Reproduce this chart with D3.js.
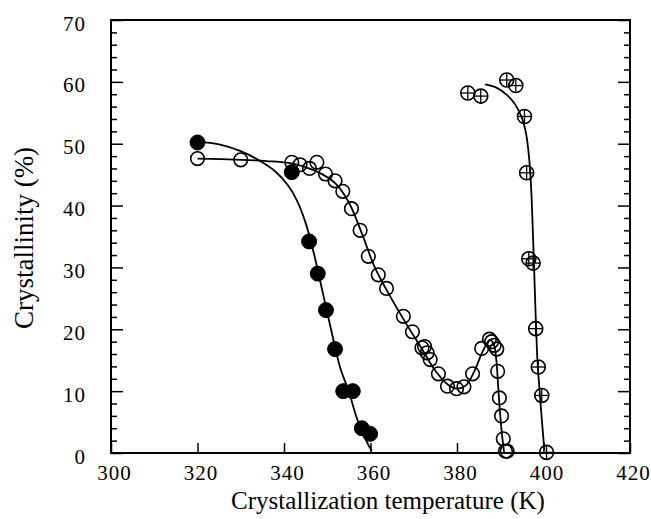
<!DOCTYPE html>
<html><head><meta charset="utf-8">
<script src="https://cdn.jsdelivr.net/npm/d3@7"></script>
<style>body{margin:0;background:#fff}</style>
</head><body><svg id="c" width="651" height="519"></svg>
<script>
// ---- data ----
const xTicks = [300, 320, 340, 360, 380, 400, 420];
const yTicks = [0, 10, 20, 30, 40, 50, 60, 70];
const yMinorTicks = [2,4,6,8,12,14,16,18,22,24,26,28,32,34,36,38,42,44,46,48,52,54,56,58,62,64,66,68];

// filled circles
const filledT = [320, 341.8, 345.8, 347.8, 349.7, 351.8, 353.7, 355.9, 358.0, 359.9];
const filledC = [50.2, 45.4, 34.2, 29.0, 23.1, 16.8, 10.0, 10.0, 4.0, 3.1];

// open circles
const openT = [320, 330, 341.8, 343.7, 345.9, 347.6, 349.6, 351.8, 353.6, 355.6, 357.6, 359.5, 361.8, 363.7, 367.6, 369.7, 371.9, 372.5, 373.1, 373.8, 375.7, 377.8, 379.9, 381.6, 383.6, 385.7, 387.5, 388.0, 388.6, 389.2, 389.4, 389.8, 390.3, 390.7, 391.2, 391.6];
const openC = [47.6, 47.4, 47.0, 46.6, 46.0, 47.0, 45.1, 44.0, 42.3, 39.5, 36.0, 31.8, 28.8, 26.6, 22.1, 19.6, 17.0, 17.2, 16.2, 15.1, 12.8, 10.8, 10.4, 10.7, 12.8, 16.9, 18.4, 18.0, 17.4, 16.8, 13.2, 8.9, 6.0, 2.3, 0.3, 0.3];

// crossed circles
const crossT = [382.5, 385.5, 391.5, 393.6, 395.6, 396.1, 396.6, 397.6, 398.2, 398.8, 399.6, 400.7];
const crossC = [58.2, 57.7, 60.3, 59.4, 54.4, 45.3, 31.4, 30.7, 20.1, 13.9, 9.3, 0.1];

// guide curves
const fitFilledT = [320, 325, 330, 334, 338, 341, 343, 345, 347, 349, 351, 353, 355, 357, 359, 360.3];
const fitFilledC = [50.3, 49.9, 48.8, 47.4, 45.5, 43.2, 40.8, 37.2, 32.0, 25.8, 19.6, 13.8, 9.9, 5.3, 2.0, 0.3];

const fitOpenT = [320, 330, 336, 341, 345, 349, 352, 355, 358, 361, 364, 368, 372, 375, 378, 380, 382, 384, 386, 387.6, 388.5, 389.1, 389.5, 389.9, 390.4, 390.9];
const fitOpenC = [47.6, 47.4, 47.2, 46.9, 46.2, 45.0, 43.5, 40.5, 35.5, 30.0, 26.0, 21.2, 16.7, 13.3, 11.0, 10.4, 10.9, 13.2, 16.5, 18.3, 17.6, 15.0, 11.0, 7.0, 3.0, 0.0];

const fitCrossT = [386.5, 389, 391.5, 393.5, 395, 396, 396.7, 397.2, 397.5, 397.8, 398.2, 398.6, 399.1, 399.6, 400.2];
const fitCrossC = [59.6, 59.1, 57.9, 56.3, 54.2, 51.5, 47.5, 42, 36.5, 30.5, 22, 15, 10, 5.5, 0.5];

// ---- chart ----
const svg = d3.select("#c");
const L = 111, R = 630, T = 20, B = 453;
const x = d3.scaleLinear().domain([300, 420]).range([L, R]);
const y = d3.scaleLinear().domain([0, 70]).range([B, T]);
const font = "'Liberation Serif', 'Times New Roman', serif";

// bottom axis
const gx = svg.append("g").attr("transform", `translate(0,${B})`)
  .call(d3.axisBottom(x).tickValues(xTicks).tickSizeInner(-10).tickSizeOuter(0).tickPadding(12).tickFormat(d3.format("d")));
gx.select(".domain").remove();
gx.selectAll("text").attr("font-family", font).attr("font-size", 21).attr("letter-spacing", 1).attr("dx", 3).attr("fill", "#000");
gx.selectAll("line").attr("stroke", "#000").attr("stroke-width", 1.5);

// left axis major
const gy = svg.append("g").attr("transform", `translate(${L},0)`)
  .call(d3.axisLeft(y).tickValues(yTicks).tickSizeInner(-12).tickSizeOuter(0).tickPadding(25).tickFormat(d3.format("d")));
gy.select(".domain").remove();
gy.selectAll("text").attr("font-family", font).attr("font-size", 21).attr("letter-spacing", 1).attr("dy", 10).attr("fill", "#000");
gy.selectAll("line").attr("stroke", "#000").attr("stroke-width", 1.5);
// left axis minor
const gym = svg.append("g").attr("transform", `translate(${L},0)`)
  .call(d3.axisLeft(y).tickValues(yMinorTicks).tickSizeInner(-6).tickSizeOuter(0).tickFormat(""));
gym.select(".domain").remove();
gym.selectAll("line").attr("stroke", "#000").attr("stroke-width", 1.5);

// right axis major + minor
const gr = svg.append("g").attr("transform", `translate(${R},0)`)
  .call(d3.axisRight(y).tickValues(yTicks).tickSizeInner(-12).tickSizeOuter(0).tickFormat(""));
gr.select(".domain").remove();
gr.selectAll("line").attr("stroke", "#000").attr("stroke-width", 1.5);
const grm = svg.append("g").attr("transform", `translate(${R},0)`)
  .call(d3.axisRight(y).tickValues(yMinorTicks).tickSizeInner(-6).tickSizeOuter(0).tickFormat(""));
grm.select(".domain").remove();
grm.selectAll("line").attr("stroke", "#000").attr("stroke-width", 1.5);

// frame
svg.append("rect").attr("x", L).attr("y", T).attr("width", R - L).attr("height", B - T)
  .attr("fill", "none").attr("stroke", "#000").attr("stroke-width", 2);

// curves
const line = d3.line().x(d => x(d[0])).y(d => y(d[1])).curve(d3.curveCatmullRom.alpha(0.5));
function curve(ts, cs) {
  svg.append("path").datum(ts.map((t, i) => [t, cs[i]]))
    .attr("d", line).attr("fill", "none").attr("stroke", "#000").attr("stroke-width", 1.8);
}
curve(fitFilledT, fitFilledC);
curve(fitOpenT, fitOpenC);
curve(fitCrossT, fitCrossC);

// open circles
svg.append("g").selectAll("circle").data(openT.map((t, i) => [t, openC[i]])).join("circle")
  .attr("cx", d => x(d[0])).attr("cy", d => y(d[1])).attr("r", 6.8)
  .attr("fill", "none").attr("stroke", "#000").attr("stroke-width", 1.6);

// filled circles
svg.append("g").selectAll("circle").data(filledT.map((t, i) => [t, filledC[i]])).join("circle")
  .attr("cx", d => x(d[0])).attr("cy", d => y(d[1])).attr("r", 7.5)
  .attr("fill", "#000").attr("stroke", "#000").attr("stroke-width", 1);

// crossed circles
const cg = svg.append("g").selectAll("g").data(crossT.map((t, i) => [t, crossC[i]])).join("g")
  .attr("transform", d => `translate(${x(d[0])},${y(d[1])})`);
cg.append("circle").attr("r", 7).attr("fill", "none").attr("stroke", "#000").attr("stroke-width", 1.6);
cg.append("line").attr("x1", -7).attr("x2", 7).attr("stroke", "#000").attr("stroke-width", 1.3);
cg.append("line").attr("y1", -7).attr("y2", 7).attr("stroke", "#000").attr("stroke-width", 1.3);

// titles
svg.append("text").attr("x", 388).attr("y", 509).attr("text-anchor", "middle")
  .attr("font-family", font).attr("font-size", 25).attr("fill", "#000")
  .text("Crystallization temperature (K)");
svg.append("text").attr("transform", "translate(33,238) rotate(-90)").attr("text-anchor", "middle")
  .attr("font-family", font).attr("font-size", 27).attr("fill", "#000")
  .text("Crystallinity (%)");
</script></body></html>
